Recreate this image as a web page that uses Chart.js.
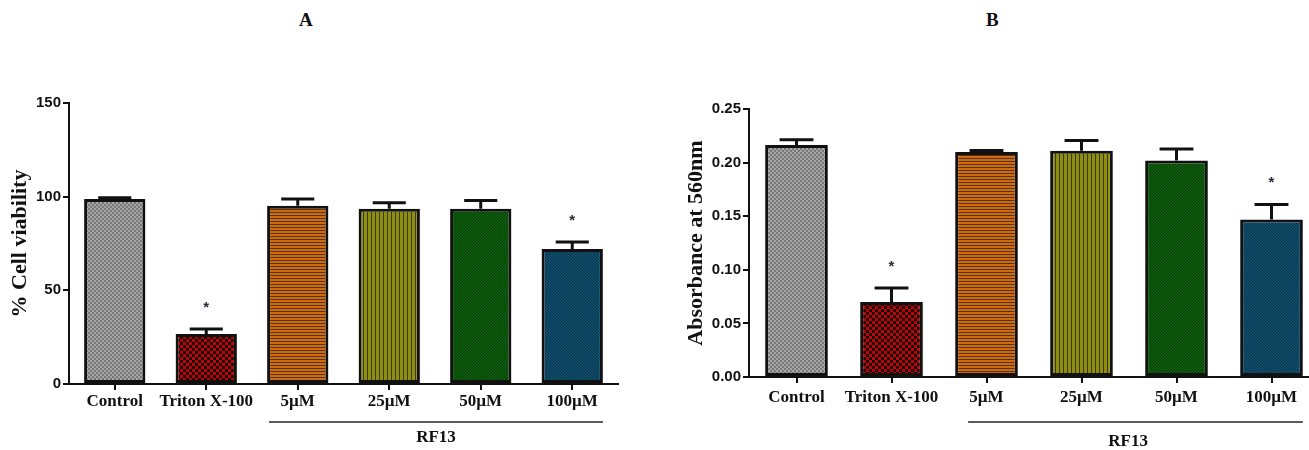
<!DOCTYPE html>
<html>
<head>
<meta charset="utf-8">
<script src="https://cdn.jsdelivr.net/npm/chart.js@4"></script>
<style>
  html, body { margin: 0; padding: 0; background: #fff; overflow: hidden; width: 1309px; height: 450px; }
  .panel { position: absolute; top: 0; height: 450px; }
  .tag { position: absolute; top: 9px; font: bold 19px "Liberation Serif", serif; color: #111; }
</style>
</head>
<body>
<div class="tag" style="left:299px">A</div>
<div class="tag" style="left:986px">B</div>
<div class="panel" style="left:0; width:640px"><canvas id="chartA"></canvas></div>
<div class="panel" style="left:680px; width:650px"><canvas id="chartB"></canvas></div>
<script>
const categories = ['Control', 'Triton X-100', '5µM', '25µM', '50µM', '100µM'];

const viability = [98.8, 26.7, 95.1, 93.5, 93.5, 72.1];
const viabilityErr = [0.6, 2.7, 3.7, 3.2, 4.4, 3.7];
const viabilityStars = [false, true, false, false, false, true];
const viabilityTicks = [0, 50, 100, 150];

const absorbance = [0.2165, 0.070, 0.210, 0.211, 0.202, 0.147];
const absorbanceErr = [0.0047, 0.013, 0.0012, 0.0097, 0.0106, 0.014];
const absorbanceStars = [false, true, false, false, false, true];
const absorbanceTicks = [0, 0.05, 0.10, 0.15, 0.20, 0.25];

const groupLabel = 'RF13';

// small tiles for the hatch fills
function tile(w, h, draw) {
  const c = document.createElement('canvas');
  c.width = w; c.height = h;
  draw(c.getContext('2d'));
  return c.getContext('2d').createPattern(c, 'repeat');
}
function checker(size, a, b) {
  return tile(size * 2, size * 2, g => {
    g.fillStyle = a; g.fillRect(0, 0, size * 2, size * 2);
    g.fillStyle = b; g.fillRect(0, 0, size, size); g.fillRect(size, size, size, size);
  });
}
function diag(n, base, line, up) {
  return tile(n, n, g => {
    g.fillStyle = base; g.fillRect(0, 0, n, n);
    g.fillStyle = line;
    for (let i = 0; i < n; i++) g.fillRect(i, up ? n - 1 - i : i, 1, 1);
  });
}
const fills = [
  checker(2, '#a6a6a6', '#787878'),
  checker(3, '#b80606', '#1e0202'),
  tile(1, 3, g => { g.fillStyle = '#cc6c12'; g.fillRect(0, 0, 1, 3); g.fillStyle = '#5e3206'; g.fillRect(0, 2, 1, 1); }),
  tile(4, 1, g => { g.fillStyle = '#8e8e12'; g.fillRect(0, 0, 4, 1); g.fillStyle = '#3c3c02'; g.fillRect(3, 0, 1, 1); }),
  diag(3, '#0c600c', '#043604', true),
  diag(3, '#0f4f6e', '#072f46', false)
];

const errorBars = {
  id: 'errorBars',
  afterDatasetsDraw(chart, args, opts) {
    const ctx = chart.ctx;
    const meta = chart.getDatasetMeta(0);
    const y = chart.scales.y;
    ctx.save();
    ctx.strokeStyle = '#111';
    ctx.lineWidth = 3;
    meta.data.forEach((bar, i) => {
      const v = chart.data.datasets[0].data[i];
      const top = y.getPixelForValue(v + opts.err[i]);
      const half = bar.width * 0.27;
      ctx.beginPath();
      ctx.moveTo(bar.x, bar.y);
      ctx.lineTo(bar.x, top);
      ctx.moveTo(bar.x - half, top);
      ctx.lineTo(bar.x + half, top);
      ctx.stroke();
      if (opts.stars[i]) {
        ctx.fillStyle = '#2a2a3a';
        ctx.font = 'bold 15px "Liberation Sans"';
        ctx.textAlign = 'center';
        ctx.textBaseline = 'alphabetic';
        ctx.fillText('*', bar.x, top - 17);
      }
    });
    ctx.restore();
  },
  afterDraw(chart, args, opts) {
    const ctx = chart.ctx;
    const meta = chart.getDatasetMeta(0);
    const first = meta.data[2], last = meta.data[5];
    const x1 = first.x - first.width / 2 + opts.inset;
    const x2 = last.x + last.width / 2;
    const ly = chart.chartArea.bottom + opts.lineGap;
    ctx.save();
    ctx.strokeStyle = '#222';
    ctx.lineWidth = 1.5;
    ctx.beginPath();
    ctx.moveTo(x1, ly);
    ctx.lineTo(x2, ly);
    ctx.stroke();
    ctx.fillStyle = '#111';
    ctx.font = 'bold 17px "Liberation Serif"';
    ctx.textAlign = 'center';
    ctx.textBaseline = 'middle';
    ctx.fillText(groupLabel, opts.textX(x1, x2), ly + opts.textGap);
    ctx.restore();
  }
};

function makeConfig(values, err, stars, ticks, title, o) {
  return {
    type: 'bar',
    data: {
      labels: categories,
      datasets: [{
        data: values,
        backgroundColor: fills,
        borderColor: '#111',
        borderWidth: 3,
        borderSkipped: false,
        categoryPercentage: 1,
        barPercentage: o.barPct
      }]
    },
    plugins: [errorBars],
    options: {
      responsive: true,
      maintainAspectRatio: false,
      animation: false,
      layout: { padding: { top: o.top, right: o.right, left: 0, bottom: 0 } },
      plugins: {
        legend: { display: false },
        tooltip: { enabled: false },
        errorBars: { err: err, stars: stars, inset: o.inset, lineGap: o.lineGap, textGap: o.textGap, textX: o.textX }
      },
      scales: {
        x: {
          afterFit: s => { s.height = o.xHeight; },
          border: { display: true, color: '#111', width: 2 },
          grid: { display: true, drawOnChartArea: false, offset: false, color: '#111', lineWidth: 2, tickLength: 6 },
          ticks: {
            color: '#111', padding: o.xPad, maxRotation: 0, minRotation: 0, autoSkip: false,
            font: { family: 'Liberation Serif', size: 17, weight: 'bold' }
          }
        },
        y: {
          min: ticks[0],
          max: ticks[ticks.length - 1],
          afterFit: s => { s.width = 69; },
          afterBuildTicks: s => { s.ticks = ticks.map(v => ({ value: v })); },
          border: { display: true, color: '#111', width: 2 },
          grid: { display: true, drawOnChartArea: false, color: '#111', lineWidth: 2, tickLength: 6 },
          ticks: {
            color: '#111', padding: 2, autoSkip: false,
            font: { family: 'Liberation Sans', size: 15, weight: 'bold' },
            callback: v => o.fmt(v)
          },
          title: {
            display: true, text: title, color: '#111',
            padding: { top: o.titlePad, bottom: 0 },
            font: { family: 'Liberation Serif', size: o.titleSize, weight: 'bold' }
          }
        }
      }
    }
  };
}

window.onload = () => {
  new Chart(document.getElementById('chartA'), makeConfig(viability, viabilityErr, viabilityStars, viabilityTicks, '% Cell viability', {
    barPct: 0.67, top: 103, right: 22, xHeight: 66, xPad: 1, titlePad: 7, titleSize: 22,
    inset: 2, lineGap: 38, textGap: 16, textX: (a, b) => (a + b) / 2,
    fmt: v => String(v)
  }));
  new Chart(document.getElementById('chartB'), makeConfig(absorbance, absorbanceErr, absorbanceStars, absorbanceTicks, 'Absorbance at 560nm', {
    barPct: 0.66, top: 109, right: 11, xHeight: 73, xPad: 4, titlePad: 3, titleSize: 22,
    inset: 13, lineGap: 45, textGap: 20, textX: (a, b) => a + 160,
    fmt: v => v.toFixed(2)
  }));
};
</script>
</body>
</html>
